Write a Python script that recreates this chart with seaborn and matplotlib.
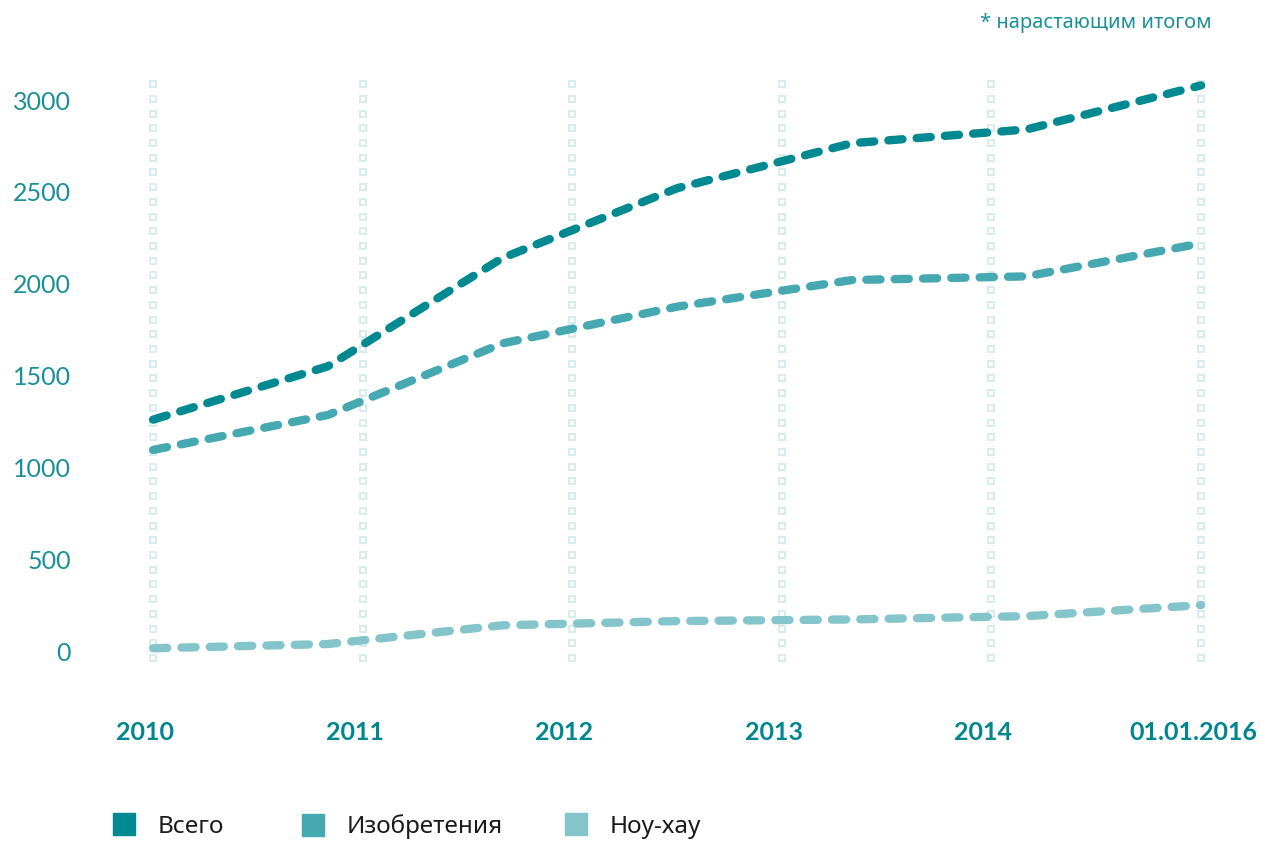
import numpy as np
import pandas as pd
import matplotlib
matplotlib.use("Agg")
import matplotlib.pyplot as plt
from matplotlib.lines import Line2D
import matplotlib.transforms as mtransforms
import seaborn as sns

# ---- data ----
series_names = ["Всего", "Изобретения", "Ноу-хау"]
x_points = [0, 1, 2, 3, 4, 5, 6]
total_vals = [1260, 1550, 2140, 2520, 2765, 2840, 3080]
invent_vals = [1095, 1285, 1675, 1875, 2020, 2040, 2220]
knowhow_vals = [15, 38, 140, 163, 172, 190, 250]
x_labels = ["2010", "2011", "2012", "2013", "2014", "01.01.2016"]
y_ticks = [0, 500, 1000, 1500, 2000, 2500, 3000]
footnote = "* нарастающим итогом"

colors = {"Всего": "#008991", "Изобретения": "#46a9b1", "Ноу-хау": "#83c5cb"}
label_teal = "#1b8f98"
xlabel_teal = "#00868f"
grid_col = "#d3eaec"

df = pd.DataFrame({
    "x": x_points * 3,
    "value": total_vals + invent_vals + knowhow_vals,
    "series": [series_names[0]] * 7 + [series_names[1]] * 7 + [series_names[2]] * 7,
})

sns.set_theme(style="white")
plt.rcParams["font.family"] = ["Lato", "Noto Sans", "DejaVu Sans"]

fig = plt.figure(figsize=(12.61, 8.41), dpi=100)
ax = fig.add_axes([0.0937, 0.1713, 0.8865, 0.7643])

# dotted grid made of hollow squares at label positions
tick_pos = np.linspace(0, 6, len(x_labels))
grid_y = np.linspace(-38, 3087, 40)
for xt in tick_pos:
    ax.plot(np.full_like(grid_y, xt), grid_y, ls="none", marker="s", ms=4.3,
            mfc="white", mec=grid_col, mew=1.3, zorder=1)

sns.lineplot(data=df, x="x", y="value", hue="series", style="series",
             palette=colors, dashes={n: (1.7, 1.7) for n in series_names},
             linewidth=6, legend=False, ax=ax, zorder=3)
for ln in ax.lines:
    if ln.get_linestyle() not in ("None", "none", ""):
        ln.set_dash_capstyle("round")
        ln.set_solid_capstyle("round")

ax.set_xlim(-0.2, 6.2)
ax.set_ylim(-250, 3250)
ax.set_xticks(tick_pos)
ax.set_xticklabels(x_labels, fontsize=18, fontweight="bold", color=xlabel_teal)
ax.set_yticks(y_ticks)
ax.set_yticklabels([str(v) for v in y_ticks], fontsize=18, color=label_teal)
ax.tick_params(axis="x", length=0, pad=17)
ax.tick_params(axis="y", length=0, pad=34)
shift = mtransforms.ScaledTranslation(-8 / 100, 0, fig.dpi_scale_trans)
for lbl in ax.get_xticklabels():
    lbl.set_transform(lbl.get_transform() + shift)
ax.set_xlabel("")
ax.set_ylabel("")
for s in ax.spines.values():
    s.set_visible(False)
ax.grid(False)

legend_x = [113, 302, 565]
for n, lx in zip(series_names, legend_x):
    h = Line2D([], [], ls="none", marker="s", ms=16, mfc=colors[n], mec=colors[n])
    fig.legend([h], [n], loc="center left", bbox_to_anchor=(lx / 1261, (841 - 827) / 841),
               frameon=False, borderpad=0, borderaxespad=0, handlelength=0.9,
               handletextpad=0.95, prop={"family": ["Noto Sans", "DejaVu Sans"], "size": 17.5},
               labelcolor="#1a1a1a")

fig.text(1212 / 1261, (841 - 23) / 841, footnote, ha="right", va="center",
         color=label_teal, fontsize=14.5, family=["Noto Sans", "DejaVu Sans"])

fig.savefig("out.png", dpi=100, facecolor="white")
